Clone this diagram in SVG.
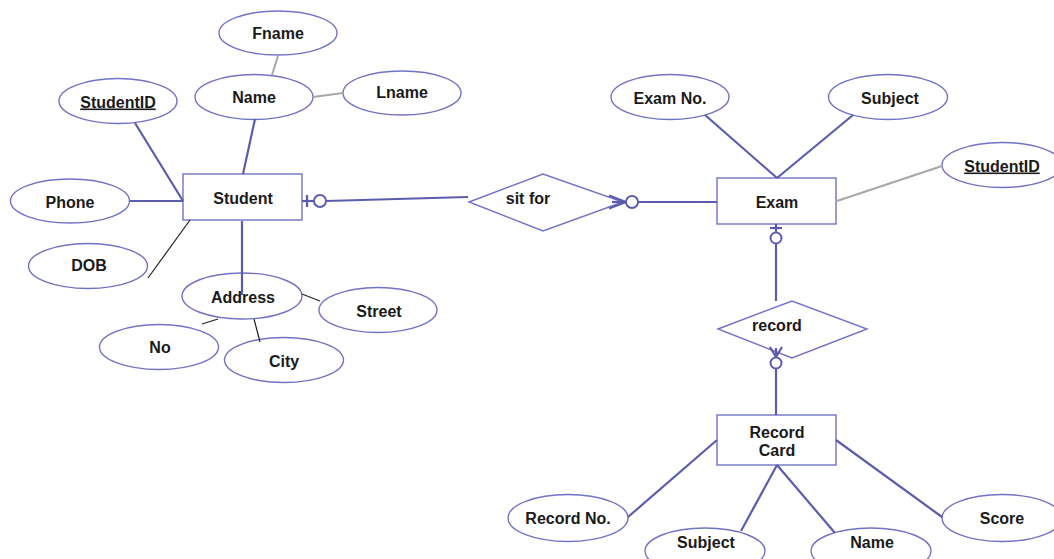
<svg xmlns="http://www.w3.org/2000/svg" width="1054" height="559" viewBox="0 0 1054 559">
  <style>
    .attr { fill: #ffffff; stroke: #7272c4; stroke-width: 1.4; }
    .ent { fill: #ffffff; stroke: #7272c4; stroke-width: 1.4; }
    .rel { fill: #ffffff; stroke: #7272c4; stroke-width: 1.4; }
    .lbl { font-family: "Liberation Sans", Arial, sans-serif; font-weight: bold; font-size: 16px; fill: #1a1a1a; text-anchor: middle; }
    .key { text-decoration: underline; }
    .ln { stroke: #5c5cae; stroke-width: 2.2; fill: none; }
    .grey { stroke: #a8a8a8; stroke-width: 2; fill: none; }
    .thin { stroke: #222222; stroke-width: 1.2; fill: none; }
    .crow { stroke: #5c5cae; stroke-width: 2; fill: #ffffff; }
  </style>

  <rect width="1054" height="559" fill="#ffffff"/>

  <!-- Student side -->
  <g id="fname"><ellipse class="attr" cx="278" cy="33" rx="59" ry="22"/><text class="lbl" x="278" y="39">Fname</text></g>
  <g id="name"><ellipse class="attr" cx="254" cy="97" rx="59" ry="22.5"/><text class="lbl" x="254" y="103">Name</text></g>
  <g id="lname"><ellipse class="attr" cx="402" cy="93" rx="59" ry="22"/><text class="lbl" x="402" y="98">Lname</text></g>
  <g id="student-id"><ellipse class="attr" cx="118" cy="101" rx="59" ry="22.5"/><text class="lbl key" x="118" y="107.5">StudentID</text></g>
  <g id="phone"><ellipse class="attr" cx="70" cy="201" rx="59.5" ry="22"/><text class="lbl" x="70" y="207.5">Phone</text></g>
  <g id="student"><rect class="ent" x="183" y="174" width="119" height="46"/><text class="lbl" x="243" y="203.5">Student</text></g>
  <g id="dob"><ellipse class="attr" cx="88" cy="266" rx="59.5" ry="22.5"/><text class="lbl" x="89" y="271">DOB</text></g>
  <g id="address"><ellipse class="attr" cx="242" cy="296" rx="60" ry="23"/><text class="lbl" x="243" y="302.5">Address</text></g>
  <g id="street"><ellipse class="attr" cx="378" cy="310" rx="59" ry="22.5"/><text class="lbl" x="379" y="316.5">Street</text></g>
  <g id="no"><ellipse class="attr" cx="159" cy="347" rx="59.5" ry="22.5"/><text class="lbl" x="160" y="353">No</text></g>
  <g id="city"><ellipse class="attr" cx="284" cy="360" rx="59.5" ry="22.5"/><text class="lbl" x="284" y="366.5">City</text></g>

  <!-- relationships -->
  <g id="sit-for"><polygon class="rel" points="469,202 543,174 623,202 543,231"/><text class="lbl" x="528" y="203.5">sit for</text></g>
  <g id="record"><polygon class="rel" points="718,329 792,301 867,329 792,358"/><text class="lbl" x="777" y="330.5">record</text></g>

  <!-- Exam side -->
  <g id="exam-no"><ellipse class="attr" cx="670" cy="97" rx="59" ry="22.5"/><text class="lbl" x="670" y="103.5">Exam No.</text></g>
  <g id="exam-subject"><ellipse class="attr" cx="888" cy="97" rx="59.5" ry="22.5"/><text class="lbl" x="890" y="103.5">Subject</text></g>
  <g id="exam-student-id"><ellipse class="attr" cx="1002" cy="165" rx="60" ry="22.5"/><text class="lbl key" x="1002" y="171.5">StudentID</text></g>
  <g id="exam"><rect class="ent" x="717" y="178" width="119" height="46"/><text class="lbl" x="777" y="207.5">Exam</text></g>

  <!-- Record Card side -->
  <g id="record-card"><rect class="ent" x="717" y="415" width="119" height="50"/><text class="lbl" x="777" y="437.5">Record</text><text class="lbl" x="777" y="455.5">Card</text></g>
  <g id="record-no"><ellipse class="attr" cx="568" cy="518" rx="60" ry="23.5"/><text class="lbl" x="568" y="524">Record No.</text></g>
  <g id="card-subject"><ellipse class="attr" cx="705" cy="551" rx="60" ry="23"/><text class="lbl" x="706" y="547.5">Subject</text></g>
  <g id="card-name"><ellipse class="attr" cx="871" cy="551" rx="60" ry="23"/><text class="lbl" x="872" y="547.5">Name</text></g>
  <g id="score"><ellipse class="attr" cx="1002" cy="518" rx="60" ry="23.5"/><text class="lbl" x="1002" y="524">Score</text></g>

  <!-- connectors, drawn over the shapes -->
  <g id="connectors">
    <line class="grey" x1="278" y1="56" x2="272" y2="75"/>
    <line class="grey" x1="313" y1="97" x2="343" y2="93"/>
    <line class="ln" x1="135" y1="123" x2="183" y2="201"/>
    <line class="ln" x1="255" y1="119" x2="243" y2="174"/>
    <line class="ln" x1="130" y1="201" x2="183" y2="201"/>
    <line class="thin" x1="148" y1="278" x2="190" y2="220"/>
    <line class="ln" x1="242" y1="221" x2="242" y2="295"/>
    <line class="thin" x1="302" y1="294" x2="320" y2="301"/>
    <line class="thin" x1="218" y1="319" x2="202" y2="324"/>
    <line class="thin" x1="254" y1="319" x2="260" y2="342"/>

    <!-- Student to sit for -->
    <line class="ln" x1="302" y1="201" x2="314" y2="201"/>
    <line class="ln" x1="307" y1="195" x2="307" y2="207"/>
    <circle class="crow" cx="320" cy="201" r="6"/>
    <line class="ln" x1="326" y1="201" x2="468" y2="197"/>

    <!-- sit for to Exam -->
    <line class="ln" x1="609" y1="195.5" x2="626" y2="202"/>
    <line class="ln" x1="609" y1="208.5" x2="626" y2="202"/>
    <line class="ln" x1="612" y1="202" x2="626" y2="202"/>
    <circle class="crow" cx="632" cy="202" r="6"/>
    <line class="ln" x1="638" y1="202" x2="717" y2="202"/>

    <!-- Exam attributes -->
    <line class="ln" x1="705" y1="115" x2="777" y2="178"/>
    <line class="ln" x1="853" y1="115" x2="777" y2="178"/>
    <line class="grey" x1="837" y1="201" x2="942" y2="166"/>

    <!-- Exam to record -->
    <line class="ln" x1="776" y1="224" x2="776" y2="233"/>
    <line class="ln" x1="770" y1="228" x2="782" y2="228"/>
    <circle class="crow" cx="776" cy="238" r="5.5"/>
    <line class="ln" x1="776" y1="243.5" x2="776" y2="301"/>

    <!-- record to Record Card -->
    <line class="ln" x1="770" y1="347" x2="776" y2="357"/>
    <line class="ln" x1="782" y1="347" x2="776" y2="357"/>
    <line class="ln" x1="776" y1="348" x2="776" y2="357"/>
    <circle class="crow" cx="776" cy="363" r="5.5"/>
    <line class="ln" x1="776" y1="368.5" x2="776" y2="415"/>

    <!-- Record Card attributes -->
    <line class="ln" x1="628" y1="517" x2="717" y2="440"/>
    <line class="ln" x1="741" y1="531" x2="777" y2="465"/>
    <line class="ln" x1="835" y1="533" x2="777" y2="465"/>
    <line class="ln" x1="942" y1="517" x2="836" y2="440"/>
  </g>
</svg>
